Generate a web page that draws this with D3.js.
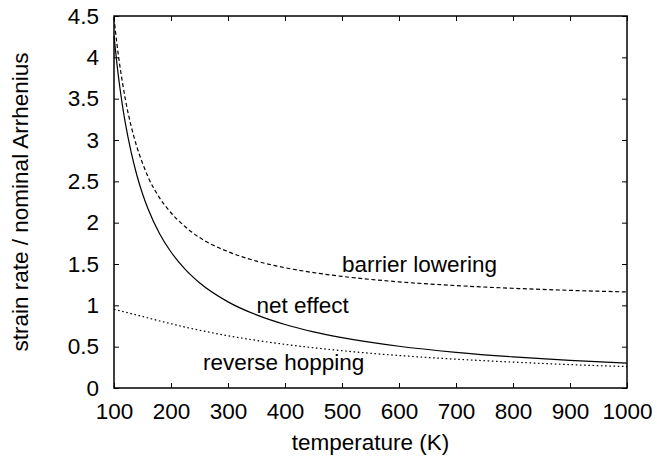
<!DOCTYPE html>
<html>
<head>
<meta charset="utf-8">
<script src="https://cdn.jsdelivr.net/npm/d3@7"></script>
<style>
  html, body { margin: 0; padding: 0; background: #fff; }
  svg { display: block; }
  text { font-family: "Liberation Sans", Arial, sans-serif; fill: #000; }
</style>
</head>
<body>
<svg id="chart" width="657" height="457"></svg>
<script>
// ---- data ----
const temperature = [100, 105, 110, 115, 120, 130, 140, 150, 160, 180, 200, 225, 250, 300, 350, 400, 450, 500, 600, 700, 800, 900, 1000];
const barrierLowering = [4.48, 4.17, 3.91, 3.69, 3.49, 3.17, 2.92, 2.72, 2.55, 2.30, 2.12, 1.95, 1.82, 1.65, 1.535, 1.455, 1.396, 1.350, 1.284, 1.239, 1.206, 1.181, 1.162];
const netEffect = [4.26, 3.93, 3.65, 3.41, 3.20, 2.855, 2.577, 2.350, 2.162, 1.866, 1.645, 1.435, 1.273, 1.042, 0.884, 0.768, 0.679, 0.609, 0.505, 0.432, 0.377, 0.335, 0.301];
const reverseHopping = [0.950, 0.943, 0.935, 0.926, 0.918, 0.900, 0.883, 0.865, 0.847, 0.811, 0.777, 0.736, 0.699, 0.632, 0.576, 0.528, 0.487, 0.451, 0.393, 0.349, 0.313, 0.283, 0.259];
const xTicks = [100, 200, 300, 400, 500, 600, 700, 800, 900, 1000];
const yTicks = [0, 0.5, 1, 1.5, 2, 2.5, 3, 3.5, 4, 4.5];
const seriesNames = ["barrier lowering", "net effect", "reverse hopping"];
const xTitle = "temperature (K)";
const yTitle = "strain rate / nominal Arrhenius";

// ---- layout ----
const svg = d3.select("#chart");
const mLeft = 114, mRight = 627, mTop = 16, mBottom = 388;
const x = d3.scaleLinear().domain([100, 1000]).range([mLeft, mRight]);
const y = d3.scaleLinear().domain([0, 4.5]).range([mBottom, mTop]);
const fs = 22.5;
const tickLen = 5;

const g = svg.append("g");

// curves
const seriesData = [barrierLowering, netEffect, reverseHopping];
const dashes = ["4,2.6", null, "1.6,2.6"];
const line = d3.line().x(d => x(d[0])).y(d => y(d[1])).curve(d3.curveMonotoneX);
seriesData.forEach((vals, i) => {
  g.append("path")
    .datum(temperature.map((t, j) => [t, vals[j]]))
    .attr("d", line)
    .attr("fill", "none")
    .attr("stroke", "#000")
    .attr("stroke-width", 1.2)
    .attr("stroke-dasharray", dashes[i]);
});

// axes (ticks inward, mirrored)
const axB = d3.axisBottom(x).tickValues(xTicks).tickSizeInner(-tickLen).tickSizeOuter(0).tickPadding(15).tickFormat(d3.format("d"));
const axT = d3.axisTop(x).tickValues(xTicks).tickSizeInner(-tickLen).tickSizeOuter(0).tickFormat("");
const axL = d3.axisLeft(y).tickValues(yTicks).tickSizeInner(-tickLen).tickSizeOuter(0).tickPadding(15).tickFormat(d => d3.format("")(d));
const axR = d3.axisRight(y).tickValues(yTicks).tickSizeInner(-tickLen).tickSizeOuter(0).tickFormat("");

function style(sel) {
  sel.select(".domain").remove();
  sel.selectAll(".tick line").attr("stroke", "#000").attr("stroke-width", 1);
  sel.selectAll("text").attr("font-size", fs).attr("font-family", "Liberation Sans, Arial, sans-serif").attr("fill", "#000");
}
g.append("g").attr("transform", `translate(0,${mBottom})`).call(axB).call(style);
g.append("g").attr("transform", `translate(0,${mTop})`).call(axT).call(style);
g.append("g").attr("transform", `translate(${mLeft},0)`).call(axL).call(style);
g.append("g").attr("transform", `translate(${mRight},0)`).call(axR).call(style);

// frame
g.append("rect").attr("x", mLeft).attr("y", mTop).attr("width", mRight - mLeft).attr("height", mBottom - mTop)
  .attr("fill", "none").attr("stroke", "#000").attr("stroke-width", 1.5);

// series labels (anchored in data units)
const labelAnchors = [[500, 1.40], [350, 0.91], [256, 0.22]];
seriesNames.forEach((name, i) => {
  g.append("text")
    .attr("x", x(labelAnchors[i][0]))
    .attr("y", y(labelAnchors[i][1]))
    .attr("font-size", fs)
    .text(name);
});

// axis titles
g.append("text").attr("x", (mLeft + mRight) / 2).attr("y", 450).attr("text-anchor", "middle").attr("font-size", fs).text(xTitle);
g.append("text").attr("transform", `translate(28,${(mTop + mBottom) / 2}) rotate(-90)`).attr("text-anchor", "middle").attr("font-size", fs).text(yTitle);
</script>
</body>
</html>
